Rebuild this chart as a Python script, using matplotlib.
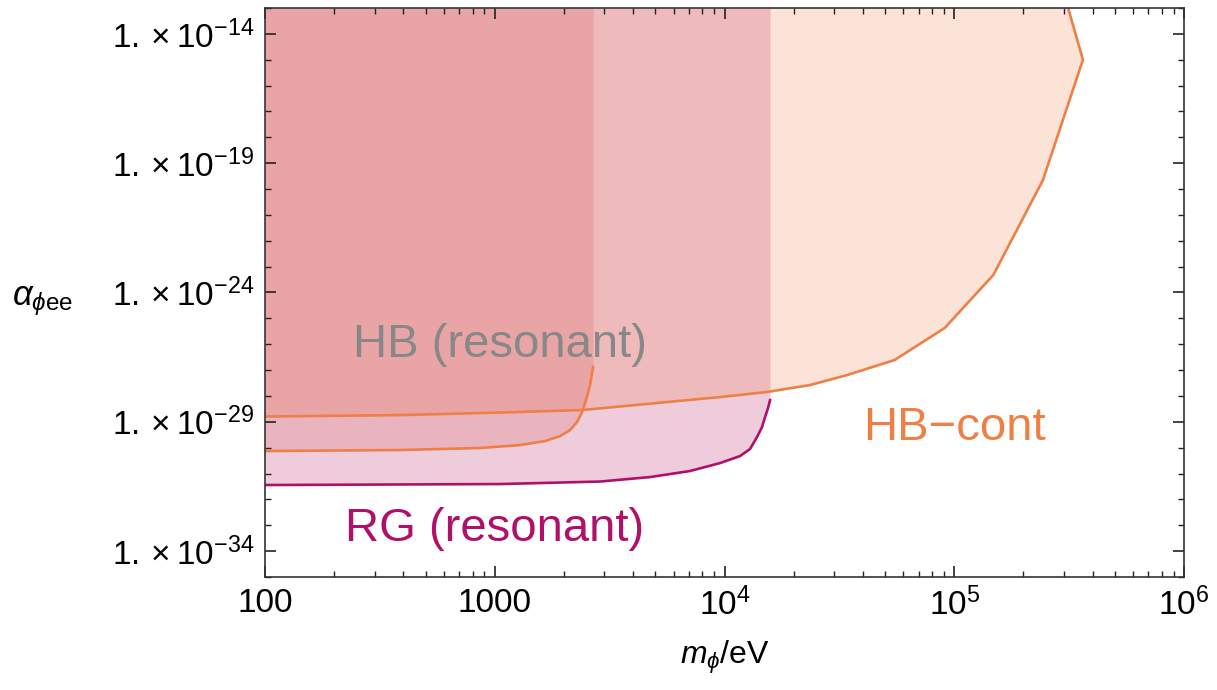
import numpy as np
import matplotlib
matplotlib.use("Agg")
import matplotlib.pyplot as plt
from matplotlib.ticker import FixedLocator, NullFormatter, LogLocator

plt.rcParams['font.family'] = ['Liberation Sans', 'DejaVu Sans']
plt.rcParams['mathtext.fontset'] = 'custom'
plt.rcParams['mathtext.rm'] = 'Liberation Sans'
plt.rcParams['mathtext.it'] = 'Liberation Sans:italic'
plt.rcParams['mathtext.bf'] = 'Liberation Sans:bold'

# HB continuum bound (m_phi in eV, alpha_phi_ee)
hbc_m = [100, 387, 1054, 2398, 5618, 9559, 1.531e4, 2.356e4, 3.41e4, 5.5e4, 9.1e4,
         1.48e5, 2.43e5, 3.63e5, 3.13e5]
hbc_a = [1.6e-29, 1.82e-29, 2.28e-29, 2.85e-29, 5.8e-29, 9.06e-29, 1.42e-28, 2.64e-28,
         6.4e-28, 2.45e-27, 4.3e-26, 4.8e-24, 2.2e-20, 1.0e-15, 1.0e-13]

# HB resonant bound
hbr_m = [100, 387, 863, 1288, 1654, 1923, 2126, 2280, 2398, 2496, 2598, 2677]
hbr_a = [7.4e-31, 8.1e-31, 9.7e-31, 1.26e-30, 1.8e-30, 2.81e-30, 4.8e-30, 9.8e-30,
         2.38e-29, 6.9e-29, 2.64e-28, 1.31e-27]

# RG resonant bound
rg_m = [100, 1054, 2872, 4740, 7076, 9559, 1.168e4, 1.291e4, 1.385e4, 1.456e4,
        1.501e4, 1.546e4, 1.578e4]
rg_a = [3.59e-32, 3.92e-32, 4.9e-32, 7.3e-32, 1.25e-31, 2.54e-31, 4.74e-31, 8.85e-31,
        2.58e-30, 6.27e-30, 1.53e-29, 3.4e-29, 6.9e-29]

ytop = 1e-13
ybot = 1e-35

orange = '#EE7F45'
magenta = '#B0106A'

fig = plt.figure(figsize=(12.17, 6.9), dpi=100)
ax = fig.add_axes([0.2178, 0.1638, 0.9729 - 0.2178, 0.9884 - 0.1638])

# shaded regions
ax.fill_between(rg_m, rg_a, ytop, color=(170/255, 0, 80/255), alpha=0.2, lw=0)
ax.fill(hbc_m + [hbc_m[0]], hbc_a + [ytop], color=(240/255, 115/255, 60/255), alpha=0.2, lw=0)
ax.fill_between(hbr_m, hbr_a, ytop, color=(215/255, 80/255, 80/255), alpha=0.2, lw=0)

# boundary curves
ax.plot(rg_m, rg_a, color=magenta, lw=1.9)
ax.plot(hbr_m, hbr_a, color=orange, lw=1.9)
ax.plot(hbc_m, hbc_a, color=orange, lw=1.9)

ax.set_xscale('log')
ax.set_yscale('log')
ax.set_xlim(100, 1e6)
ax.set_ylim(ybot, ytop)

ax.set_xticks([100, 1000, 1e4, 1e5, 1e6])
ax.set_xticklabels(['100', '1000', r'$10^{4}$', r'$10^{5}$', r'$10^{6}$'])
ax.xaxis.set_minor_locator(LogLocator(base=10, subs=np.arange(2, 10), numticks=20))
ax.xaxis.set_minor_formatter(NullFormatter())

yexp = [-14, -19, -24, -29, -34]
ax.yaxis.set_major_locator(FixedLocator([10.0**e for e in yexp]))
ax.set_yticklabels([r'$1.\times10^{%d}$' % e for e in yexp])
ax.yaxis.set_minor_locator(FixedLocator([10.0**e for e in range(-35, -12) if e not in yexp]))
ax.yaxis.set_minor_formatter(NullFormatter())

ax.tick_params(which='both', direction='in', top=True, right=True, colors='#222222',
               labelcolor='black')
ax.tick_params(which='major', length=8, width=1.2, labelsize=24, pad=8)
ax.tick_params(which='minor', length=4, width=1.0)
for s in ax.spines.values():
    s.set_color('#333333')
    s.set_linewidth(1.2)

ax.set_xlabel(r'$m_{\phi}/\mathrm{eV}$', fontsize=23, labelpad=12)
ax.set_ylabel(r'$\alpha_{\phi\mathrm{ee}}$', fontsize=25, rotation=0, labelpad=30)
ax.yaxis.set_label_coords(-0.242, 0.455)

ax.text(1050, 9e-27, 'HB (resonant)', color='#888888', fontsize=34, ha='center', va='center')
ax.text(1000, 7e-34, 'RG (resonant)', color=magenta, fontsize=34, ha='center', va='center')
ax.text(1e5, 6e-30, 'HB\u2212cont', color=orange, fontsize=34, ha='center', va='center')

fig.savefig('out.png', dpi=100)
